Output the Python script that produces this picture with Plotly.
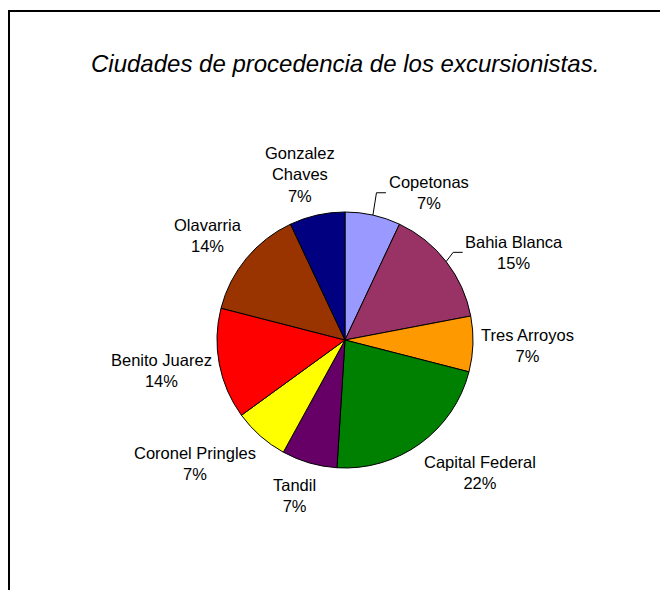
import math
import plotly.graph_objects as go

cities = ["Copetonas", "Bahia Blanca", "Tres Arroyos", "Capital Federal", "Tandil",
          "Coronel Pringles", "Benito Juarez", "Olavarria", "Gonzalez Chaves"]
display_names = ["Copetonas", "Bahia Blanca", "Tres Arroyos", "Capital Federal", "Tandil",
                 "Coronel Pringles", "Benito Juarez", "Olavarria", "Gonzalez<br>Chaves"]
shares = [7, 15, 7, 22, 7, 7, 14, 14, 7]
colors = ["#9999FF", "#993366", "#FF9900", "#008000", "#660066",
          "#FFFF00", "#FF0000", "#993300", "#000080"]

# the page adds an 8px body margin; keep the figure inside the window
OFF = 8
W, H = 668 - 2 * OFF, 598 - 2 * OFF
cx, cy, r = 345 - OFF, 340 - OFF, 128

FONT = "Liberation Sans, Arial"
LBL_SIZE = 16.5
LINE_H = 22.5
R0 = r + 7
# labels that were dragged away from their default spot (drawn with leader lines)
LABEL_NUDGE = {"Copetonas": (37, 7), "Bahia Blanca": (14, 13)}

# approximate Arial advance widths (per em) for label sizing
AW = {" ": .278, "%": .889, "A": .667, "B": .667, "C": .722, "F": .611, "G": .778,
      "J": .5, "O": .778, "P": .667, "T": .611, "a": .556, "c": .5, "d": .556,
      "e": .556, "g": .556, "h": .556, "i": .222, "l": .222, "n": .556, "o": .556,
      "p": .556, "r": .333, "s": .5, "t": .278, "u": .556, "v": .5, "y": .5,
      "z": .5, "x": .5}


def text_w(s):
    return sum(AW.get(ch, .556) for ch in s) * LBL_SIZE


def clamp(v, lo=-1.0, hi=1.0):
    return max(lo, min(hi, v))


def px2paper(x, y):
    return x / W, 1 - y / H


fig = go.Figure(go.Pie(
    labels=cities,
    values=shares,
    textinfo="none",
    marker=dict(colors=colors, line=dict(color="black", width=1)),
    sort=False,
    direction="clockwise",
    rotation=0,
    showlegend=False,
    domain=dict(x=[(cx - r) / W, (cx + r) / W],
                y=[(H - cy - r) / H, (H - cy + r) / H]),
))

# outside-end data labels, placed around each slice's bisector
total = sum(shares)
cum = 0.0
annotations = []
shapes = [dict(type="rect", xref="paper", yref="paper",
               x0=(9 - OFF) / W, x1=1.2, y0=-0.2, y1=1 - (11 - OFF) / H,
               line=dict(color="black", width=2), fillcolor="rgba(0,0,0,0)")]
for city, name, v in zip(cities, display_names, shares):
    mid = (cum + v / 2) / total * 2 * math.pi
    cum += v
    lines = name.split("<br>") + [f"{round(100 * v / total)}%"]
    hw = max(text_w(l) for l in lines) / 2
    hh = len(lines) * LINE_H / 2
    s, c = math.sin(mid), math.cos(mid)
    px, py = cx + R0 * s, cy - R0 * c
    x = px + hw * clamp(2.0 * s)
    y = py + hh * clamp(-1.3 * c, -1.0, 1.15)
    if city in LABEL_NUDGE:
        dx, dy = LABEL_NUDGE[city]
        x, y = x + dx, y + dy
        ex, ey = cx + r * s, cy - r * c
        left = x - text_w(lines[0]) / 2
        p0 = px2paper(ex, ey)
        p1 = px2paper(left - 12.5, y)
        p2 = px2paper(left - 3, y)
        shapes.append(dict(
            type="path", xref="paper", yref="paper",
            path=f"M {p0[0]},{p0[1]} L {p1[0]},{p1[1]} L {p2[0]},{p2[1]}",
            line=dict(color="black", width=1)))
    ax, ay = px2paper(x, y)
    annotations.append(dict(
        text="<br>".join(lines), x=ax, y=ay, xref="paper", yref="paper",
        xanchor="center", yanchor="middle", showarrow=False, align="center",
        font=dict(family=FONT, size=LBL_SIZE, color="black"),
    ))

annotations.append(dict(
    text="<i>Ciudades de procedencia de los excursionistas.</i>",
    x=(344.5 - OFF) / W, y=1 - (63 - OFF) / H, xref="paper", yref="paper",
    xanchor="center", yanchor="middle", showarrow=False,
    font=dict(family=FONT, size=24, color="black"),
))

fig.update_layout(
    width=W, height=H,
    margin=dict(l=0, r=0, t=0, b=0),
    paper_bgcolor="white",
    plot_bgcolor="white",
    annotations=annotations,
    shapes=shapes,
)

fig.write_html("out.html")
